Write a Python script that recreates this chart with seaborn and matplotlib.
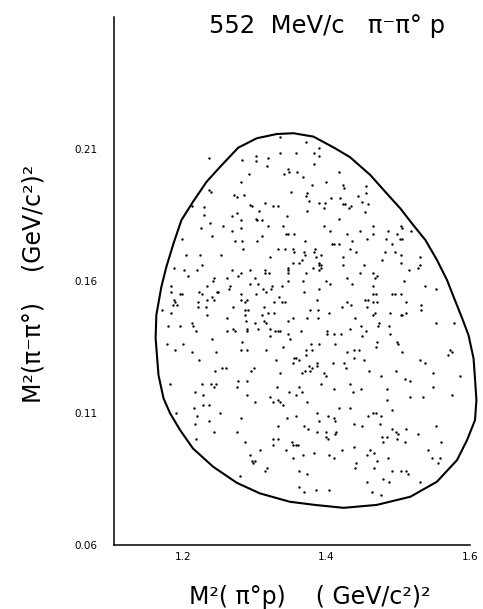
import matplotlib
matplotlib.use("Agg")
import matplotlib.pyplot as plt
import seaborn as sns

# Dalitz plot, pi- p -> pi- pi0 p at 552 MeV/c
# each event: M^2(pi0 p) on x, M^2(pi- pi0) on y, in (GeV/c^2)^2
dot_m2_pi0p = [
    # upper left
    1.237, 1.336, 1.371, 1.302, 1.282, 1.302, 1.319, 1.335, 1.358, 1.382,
    1.382, 1.317, 1.346, 1.341, 1.348, 1.359, 1.367, 1.292, 1.281, 1.236,
    1.239, 1.271, 1.276, 1.285, 1.350, 1.373, 1.372, 1.380, 1.376, 1.213,
    1.229, 1.293, 1.296, 1.314, 1.326, 1.333, 1.306, 1.373, 1.229, 1.269,
    1.275, 1.345, 1.302,
    # upper right
    1.389, 1.390, 1.417, 1.400, 1.423, 1.425, 1.455, 1.455, 1.444, 1.406,
    1.419, 1.389, 1.398, 1.423, 1.426, 1.434, 1.432, 1.450, 1.458, 1.454,
    1.397, 1.417,
    # middle-upper left
    1.238, 1.281, 1.303, 1.310, 1.225, 1.256, 1.269, 1.281, 1.319, 1.339,
    1.344, 1.347, 1.355, 1.240, 1.199, 1.273, 1.283, 1.303, 1.310, 1.370,
    1.205, 1.224, 1.253, 1.284, 1.332, 1.342, 1.353, 1.355, 1.369, 1.370,
    1.382, 1.321, 1.187, 1.202, 1.219, 1.227, 1.207, 1.268, 1.277, 1.281,
    1.293, 1.314, 1.315, 1.320, 1.346, 1.346, 1.347, 1.353, 1.362, 1.366,
    1.371, 1.381, 1.242, 1.244, 1.261, 1.266, 1.293, 1.300, 1.305, 1.324,
    1.338, 1.346, 1.367, 1.183, 1.184, 1.196, 1.199, 1.222, 1.226, 1.234,
    1.247, 1.249, 1.241, 1.264, 1.281, 1.312, 1.316, 1.323, 1.369, 1.187,
    1.189, 1.186, 1.192, 1.221, 1.233, 1.244, 1.281, 1.286, 1.290, 1.302,
    1.334, 1.327, 1.338, 1.342, 1.171, 1.184, 1.221, 1.232, 1.270, 1.287,
    1.291, 1.313, 1.319, 1.327, 1.377,
    # middle-upper right
    1.397, 1.465, 1.504, 1.505, 1.405, 1.429, 1.447, 1.465, 1.486, 1.499,
    1.518, 1.435, 1.456, 1.483, 1.502, 1.506, 1.408, 1.410, 1.418, 1.384,
    1.433, 1.441, 1.492, 1.482, 1.496, 1.504, 1.386, 1.392, 1.423, 1.389,
    1.423, 1.452, 1.478, 1.504, 1.390, 1.393, 1.393, 1.390, 1.447, 1.429,
    1.465, 1.470, 1.467, 1.515, 1.528, 1.531, 1.531, 1.400, 1.405, 1.436,
    1.508, 1.538, 1.553, 1.389, 1.465, 1.465, 1.469, 1.492, 1.496, 1.504,
    1.454, 1.458, 1.465, 1.471, 1.387, 1.428, 1.434, 1.422, 1.457, 1.511,
    1.532, 1.532, 1.388, 1.403, 1.465, 1.468, 1.488, 1.505, 1.511,
    # middle-lower left
    1.233, 1.261, 1.286, 1.310, 1.288, 1.300, 1.313, 1.316, 1.322, 1.346,
    1.353, 1.373, 1.179, 1.196, 1.213, 1.214, 1.218, 1.262, 1.270, 1.272,
    1.290, 1.290, 1.304, 1.332, 1.335, 1.329, 1.346, 1.349, 1.364, 1.321,
    1.178, 1.189, 1.200, 1.241, 1.283, 1.379, 1.213, 1.246, 1.281, 1.289,
    1.316, 1.340, 1.355, 1.358, 1.362, 1.371, 1.371, 1.380, 1.222, 1.330,
    1.354, 1.376, 1.380, 1.245, 1.254, 1.260, 1.295, 1.299, 1.336, 1.366,
    1.370, 1.377, 1.182, 1.227, 1.239, 1.246, 1.244, 1.277, 1.276, 1.289,
    1.331, 1.362, 1.217, 1.228, 1.289, 1.348, 1.358, 1.366, 1.321, 1.326,
    1.332, 1.335, 1.340, 1.373, 1.216, 1.228, 1.237, 1.300,
    # middle-lower right
    1.388, 1.440, 1.504, 1.473, 1.472, 1.487, 1.448, 1.455, 1.433, 1.401,
    1.401, 1.411, 1.421, 1.449, 1.489, 1.470, 1.469, 1.498, 1.500, 1.390,
    1.412, 1.438, 1.445, 1.429, 1.505, 1.552, 1.578, 1.572, 1.575, 1.569,
    1.438, 1.452, 1.409, 1.424, 1.387, 1.387, 1.427, 1.460, 1.497, 1.531,
    1.538, 1.397, 1.400, 1.476, 1.509, 1.517, 1.549, 1.586, 1.392, 1.433,
    1.411, 1.448, 1.437, 1.484, 1.548, 1.575, 1.516, 1.535, 1.484, 1.418,
    1.433,
    # lower left
    1.190, 1.219, 1.217, 1.252, 1.236, 1.281, 1.244, 1.276, 1.218, 1.287,
    1.308, 1.293, 1.300, 1.296, 1.298, 1.317, 1.314, 1.280, 1.332, 1.345,
    1.357, 1.369, 1.374, 1.326, 1.332, 1.325, 1.352, 1.354, 1.357, 1.360,
    1.344, 1.367, 1.353, 1.383, 1.362, 1.373, 1.362, 1.369,
    # lower right
    1.387, 1.465, 1.469, 1.476, 1.458, 1.492, 1.402, 1.411, 1.412, 1.389,
    1.439, 1.449, 1.475, 1.387, 1.399, 1.413, 1.412, 1.399, 1.402, 1.477,
    1.485, 1.491, 1.497, 1.500, 1.511, 1.479, 1.498, 1.510, 1.528, 1.553,
    1.560, 1.542, 1.547, 1.558, 1.556, 1.422, 1.404, 1.411, 1.438, 1.461,
    1.457, 1.466, 1.486, 1.471, 1.441, 1.440, 1.466, 1.491, 1.504, 1.511,
    1.513, 1.479, 1.487, 1.456, 1.531, 1.386, 1.404, 1.463, 1.476,
]
dot_m2_pipi = [
    # upper left
    0.2067, 0.2147, 0.2125, 0.2075, 0.2058, 0.2056, 0.2066, 0.2084, 0.2084, 0.2084,
    0.2042, 0.2036, 0.2026, 0.2004, 0.2014, 0.2014, 0.1993, 0.2004, 0.1976, 0.1945,
    0.1936, 0.1926, 0.1918, 0.1926, 0.1936, 0.1932, 0.1923, 0.1964, 0.1903, 0.1885,
    0.1879, 0.1887, 0.1885, 0.1897, 0.1885, 0.1885, 0.1865, 0.1865, 0.1849, 0.1848,
    0.1856, 0.1848, 0.1836,
    # upper right
    0.2103, 0.2074, 0.2014, 0.1974, 0.1964, 0.1954, 0.1961, 0.1932, 0.1923, 0.1916,
    0.1916, 0.1894, 0.1894, 0.1893, 0.1893, 0.1884, 0.1875, 0.1901, 0.1892, 0.1863,
    0.1875, 0.1834,
    # middle-upper left
    0.182, 0.183, 0.183, 0.183, 0.180, 0.181, 0.179, 0.180, 0.181, 0.181,
    0.178, 0.178, 0.178, 0.177, 0.176, 0.175, 0.175, 0.175, 0.177, 0.175,
    0.170, 0.170, 0.170, 0.172, 0.172, 0.172, 0.172, 0.171, 0.171, 0.170,
    0.171, 0.169, 0.165, 0.164, 0.164, 0.166, 0.162, 0.164, 0.162, 0.163,
    0.164, 0.164, 0.163, 0.163, 0.165, 0.163, 0.164, 0.167, 0.167, 0.168,
    0.163, 0.165, 0.160, 0.161, 0.161, 0.158, 0.159, 0.161, 0.159, 0.158,
    0.158, 0.160, 0.160, 0.158, 0.156, 0.155, 0.155, 0.156, 0.155, 0.158,
    0.156, 0.156, 0.154, 0.157, 0.155, 0.157, 0.156, 0.157, 0.156, 0.153,
    0.152, 0.151, 0.151, 0.152, 0.153, 0.153, 0.153, 0.152, 0.153, 0.155,
    0.154, 0.152, 0.152, 0.152, 0.149, 0.148, 0.150, 0.150, 0.150, 0.149,
    0.149, 0.150, 0.148, 0.148, 0.149,
    # middle-upper right
    0.181, 0.181, 0.181, 0.180, 0.179, 0.178, 0.179, 0.178, 0.179, 0.178,
    0.179, 0.175, 0.176, 0.176, 0.176, 0.176, 0.174, 0.174, 0.174, 0.172,
    0.172, 0.171, 0.174, 0.171, 0.171, 0.170, 0.169, 0.170, 0.169, 0.167,
    0.166, 0.166, 0.168, 0.167, 0.166, 0.166, 0.165, 0.164, 0.163, 0.161,
    0.163, 0.162, 0.161, 0.164, 0.165, 0.166, 0.169, 0.160, 0.159, 0.159,
    0.160, 0.158, 0.157, 0.157, 0.158, 0.155, 0.155, 0.155, 0.155, 0.155,
    0.153, 0.153, 0.152, 0.152, 0.153, 0.152, 0.151, 0.150, 0.150, 0.152,
    0.151, 0.149, 0.149, 0.148, 0.147, 0.148, 0.148, 0.147, 0.148,
    # middle-lower left
    0.147, 0.146, 0.147, 0.147, 0.145, 0.144, 0.145, 0.144, 0.142, 0.145,
    0.146, 0.146, 0.143, 0.143, 0.144, 0.143, 0.141, 0.141, 0.142, 0.141,
    0.142, 0.141, 0.142, 0.141, 0.141, 0.141, 0.140, 0.138, 0.141, 0.139,
    0.136, 0.134, 0.136, 0.138, 0.137, 0.136, 0.133, 0.133, 0.134, 0.134,
    0.134, 0.135, 0.131, 0.131, 0.130, 0.134, 0.132, 0.134, 0.130, 0.130,
    0.129, 0.128, 0.127, 0.126, 0.127, 0.127, 0.126, 0.127, 0.125, 0.125,
    0.126, 0.126, 0.121, 0.121, 0.121, 0.121, 0.120, 0.122, 0.120, 0.122,
    0.120, 0.120, 0.118, 0.117, 0.117, 0.118, 0.117, 0.118, 0.116, 0.114,
    0.115, 0.114, 0.113, 0.114, 0.112, 0.113, 0.113, 0.114,
    # middle-lower right
    0.146, 0.146, 0.147, 0.144, 0.143, 0.143, 0.143, 0.141, 0.142, 0.141,
    0.140, 0.140, 0.140, 0.139, 0.140, 0.137, 0.135, 0.137, 0.136, 0.136,
    0.136, 0.134, 0.134, 0.133, 0.133, 0.144, 0.144, 0.134, 0.133, 0.132,
    0.131, 0.130, 0.129, 0.129, 0.129, 0.128, 0.127, 0.126, 0.126, 0.130,
    0.129, 0.125, 0.124, 0.124, 0.123, 0.122, 0.125, 0.124, 0.121, 0.121,
    0.119, 0.119, 0.118, 0.119, 0.120, 0.117, 0.116, 0.116, 0.115, 0.112,
    0.112,
    # lower left
    0.110, 0.109, 0.106, 0.110, 0.107, 0.108, 0.103, 0.103, 0.100, 0.099,
    0.096, 0.094, 0.092, 0.092, 0.091, 0.089, 0.088, 0.086, 0.105, 0.108,
    0.109, 0.105, 0.104, 0.100, 0.100, 0.098, 0.099, 0.098, 0.098, 0.098,
    0.096, 0.094, 0.093, 0.095, 0.088, 0.087, 0.082, 0.080,
    # lower right
    0.110, 0.110, 0.110, 0.109, 0.109, 0.111, 0.109, 0.108, 0.107, 0.107,
    0.106, 0.105, 0.106, 0.103, 0.103, 0.103, 0.102, 0.101, 0.100, 0.101,
    0.101, 0.104, 0.103, 0.102, 0.104, 0.099, 0.100, 0.099, 0.102, 0.105,
    0.099, 0.096, 0.093, 0.093, 0.091, 0.096, 0.094, 0.093, 0.097, 0.096,
    0.094, 0.095, 0.093, 0.092, 0.091, 0.089, 0.089, 0.088, 0.088, 0.088,
    0.087, 0.085, 0.084, 0.084, 0.084, 0.081, 0.081, 0.080, 0.079,
]

# kinematic boundary (clockwise from the top)
boundary_m2_pi0p = [
    1.331, 1.354, 1.382, 1.412, 1.433, 1.461, 1.484, 1.503, 1.521, 1.538,
    1.554, 1.568, 1.579, 1.589, 1.598, 1.605, 1.607, 1.609, 1.607, 1.596,
    1.582, 1.554, 1.517, 1.470, 1.424, 1.384, 1.349, 1.307, 1.275, 1.242,
    1.214, 1.196, 1.182, 1.173, 1.166, 1.162, 1.163, 1.170, 1.177, 1.187,
    1.198, 1.214, 1.233, 1.252, 1.277, 1.303, 1.331,
]
boundary_m2_pipi = [
    0.2157, 0.2160, 0.2147, 0.2103, 0.2069, 0.2002, 0.1932, 0.1875, 0.1812, 0.1755,
    0.1680, 0.1604, 0.1528, 0.1460, 0.1395, 0.1307, 0.1231, 0.1149, 0.1073, 0.0998,
    0.0922, 0.0840, 0.0783, 0.0752, 0.0741, 0.0752, 0.0764, 0.0796, 0.0836, 0.0897,
    0.0966, 0.1036, 0.1100, 0.1156, 0.1244, 0.1384, 0.1471, 0.1578, 0.1654, 0.1743,
    0.1831, 0.1900, 0.1976, 0.2033, 0.2105, 0.2141, 0.2157,
]

x_ticks = [1.2, 1.3, 1.4, 1.5, 1.6]
x_tick_labels = ["1.2", "", "1.4", "", "1.6"]
y_ticks = [0.06, 0.11, 0.16, 0.21]
y_tick_labels = ["0.06", "0.11", "0.16", "0.21"]

title = "552  MeV/c   π⁻π° p"
x_label = "M²( π°p)    ( GeV/c²)²"
y_label = "M²(π⁻π°)    (GeV/c²)²"

sns.set_style("white")
plt.rcParams["font.family"] = ["DejaVu Sans"]
plt.rcParams["text.color"] = "black"
plt.rcParams["xtick.color"] = "black"
plt.rcParams["ytick.color"] = "black"

fig = plt.figure(figsize=(4.83, 6.09), dpi=100)
ax = fig.add_axes([0.236, 0.105, 0.737, 0.867])

sns.scatterplot(x=dot_m2_pi0p, y=dot_m2_pipi, s=3, color="black",
                linewidth=0, ax=ax)
sns.lineplot(x=boundary_m2_pi0p, y=boundary_m2_pipi, sort=False,
             estimator=None, color="black", linewidth=1.5, clip_on=False,
             solid_joinstyle="round", ax=ax)

ax.set_xlim(1.104, 1.6)
ax.set_ylim(0.06, 0.26)
ax.set_xticks(x_ticks)
ax.set_xticklabels(x_tick_labels)
ax.set_yticks(y_ticks)
ax.set_yticklabels(y_tick_labels)
ax.tick_params(axis="x", direction="in", length=9, width=1, labelsize=7.5,
               pad=5)
ax.tick_params(axis="y", direction="inout", length=12, width=1, labelsize=7.5,
               pad=6)

for side in ["top", "right"]:
    ax.spines[side].set_visible(False)
for side in ["left", "bottom"]:
    ax.spines[side].set_color("black")
    ax.spines[side].set_linewidth(1.1)

fig.text(0.677, 0.946, title, fontsize=17.5, va="baseline", ha="center")
fig.text(0.642, 0.008, x_label, fontsize=17, va="baseline", ha="center")
fig.text(0.070, 0.534, y_label, fontsize=17, rotation=90,
         va="center", ha="center")

fig.savefig("out.png", dpi=100)
